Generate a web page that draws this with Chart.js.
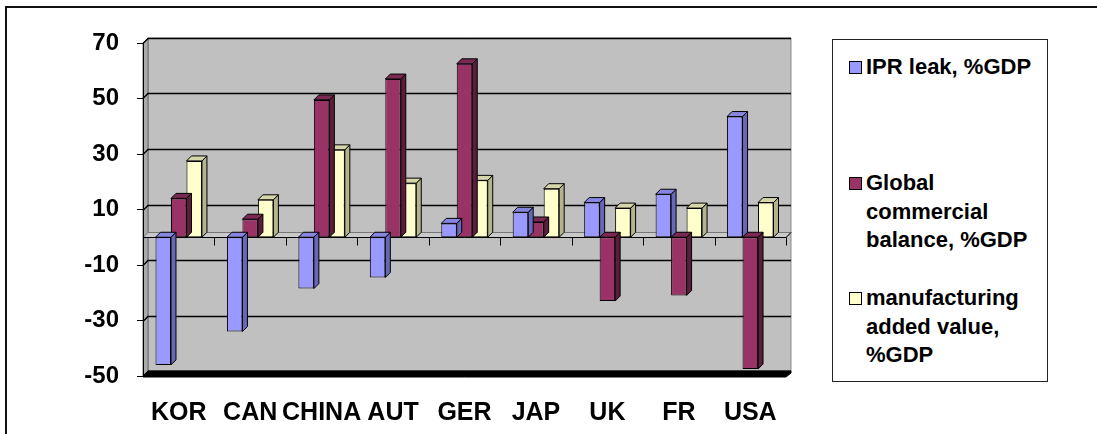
<!DOCTYPE html>
<html>
<head>
<meta charset="utf-8">
<script src="https://cdn.jsdelivr.net/npm/chart.js@4/dist/chart.umd.min.js"></script>
<style>
  html, body { margin: 0; padding: 0; background: #fff; }
  body { width: 1097px; height: 434px; position: relative; overflow: hidden;
         font-family: "Liberation Sans", Arial, sans-serif; }
  #frame { position: absolute; left: 5px; top: 6px; width: 1200px; height: 600px;
           border-top: 2px solid #111; border-left: 2px solid #111; box-sizing: border-box; }
  #wrap { position: absolute; left: 0; top: 0; width: 820px; height: 434px; }
  #legend { position: absolute; left: 832px; top: 39px; width: 216px; height: 343px;
            border: 1px solid #222; box-sizing: border-box; background: #fff;
            font-weight: bold; font-size: 22px; line-height: 28.7px; color: #000; }
  .item { position: absolute; left: 33px; white-space: nowrap; }
  .sw { position: absolute; left: -17px; top: 8px; width: 11px; height: 11px; border: 1px solid #000; }
</style>
</head>
<body>
<div id="frame"></div>
<div id="wrap"><canvas id="c"></canvas></div>
<div id="legend">
  <div class="item" style="top:13px"><span class="sw" style="background:#9999FF"></span>IPR leak, %GDP</div>
  <div class="item" style="top:129px"><span class="sw" style="background:#993366"></span>Global<br>commercial<br>balance, %GDP</div>
  <div class="item" style="top:244px"><span class="sw" style="background:#FFFFCC"></span>manufacturing<br>added value,<br>%GDP</div>
</div>
<script>
// Countries and the three indicators, in % of GDP
const categories = ['KOR', 'CAN', 'CHINA', 'AUT', 'GER', 'JAP', 'UK', 'FR', 'USA'];
const iprLeak = [-46, -34, -18.5, -14.5, 5, 9, 12.5, 15.5, 43.5];
const commercialBalance = [14, 6.5, 49.5, 57, 62.5, 5.5, -23, -21, -47.5];
const manufacturingAdded = [27.5, 13.5, 31.5, 19.5, 20.5, 17.5, 10.5, 10.5, 12.5];
const yTicks = [-50, -30, -10, 10, 30, 50, 70];

const FONT = '"Liberation Sans", Arial, sans-serif';
const WALL = 5;   // depth of the back wall
const DEPTH = 5;  // depth of each column

// face colours per series: front, side, top
const faces = [
  { front: '#9999FF', side: '#6868B8', top: '#8686E0' },
  { front: '#993366', side: '#5A1E3D', top: '#7A2952' },
  { front: '#FFFFCC', side: '#B4B48E', top: '#D6D6AA' }
];

function poly(ctx, pts, fill, stroke) {
  ctx.beginPath();
  ctx.moveTo(pts[0][0], pts[0][1]);
  for (let i = 1; i < pts.length; i++) ctx.lineTo(pts[i][0], pts[i][1]);
  ctx.closePath();
  if (fill) { ctx.fillStyle = fill; ctx.fill(); }
  if (stroke) { ctx.strokeStyle = stroke; ctx.lineWidth = 1; ctx.stroke(); }
}

// walls, floor, gridlines and the zero plane
const roomPlugin = {
  id: 'room',
  beforeDraw(chart) {
    const { ctx, chartArea: a, scales: { y } } = chart;
    const d = WALL;
    ctx.save();
    // back wall
    poly(ctx, [[a.left + d, a.top - d], [a.right + d, a.top - d], [a.right + d, a.bottom - d], [a.left + d, a.bottom - d]], '#C0C0C0', '#8a8a8a');
    // side wall
    poly(ctx, [[a.left, a.top], [a.left + d, a.top - d], [a.left + d, a.bottom - d], [a.left, a.bottom]], '#ABABAB', '#666');
    // gridlines
    ctx.strokeStyle = '#000';
    ctx.lineWidth = 1.3;
    yTicks.forEach(v => {
      const py = Math.round(y.getPixelForValue(v)) + 0.5;
      ctx.beginPath();
      ctx.moveTo(a.left, py);
      ctx.lineTo(a.left + d, py - d);
      ctx.lineTo(a.right + d, py - d);
      ctx.stroke();
    });
    // floor
    poly(ctx, [[a.left, a.bottom], [a.left + d, a.bottom - d], [a.right + d, a.bottom - d], [a.right + d, a.bottom - d + 2], [a.right, a.bottom + 1], [a.left, a.bottom + 1]], '#000', '#000');
    // zero plane
    const z = Math.round(y.getPixelForValue(0)) + 0.5;
    poly(ctx, [[a.left, z], [a.left + d, z - d], [a.right + d, z - d], [a.right, z]], '#C9C9C9', '#777');
    ctx.strokeStyle = '#000';
    ctx.lineWidth = 1;
    ctx.beginPath();
    ctx.moveTo(a.left, z); ctx.lineTo(a.right, z); ctx.lineTo(a.right + d, z - d);
    ctx.stroke();
    // category ticks on the zero line
    const step = (a.right - a.left) / categories.length;
    ctx.beginPath();
    for (let i = 1; i <= categories.length; i++) {
      const px = Math.round(a.left + i * step) + 0.5;
      ctx.moveTo(px, z); ctx.lineTo(px, z + 8);
    }
    ctx.stroke();
    ctx.restore();
  },
  // side and top faces of each column, drawn before its front face
  beforeDatasetDraw(chart, args) {
    const { ctx } = chart;
    const meta = chart.getDatasetMeta(args.index);
    const f = faces[args.index];
    const d = DEPTH;
    ctx.save();
    meta.data.forEach(bar => {
      const l = bar.x - bar.width / 2, r = bar.x + bar.width / 2;
      const t = Math.min(bar.y, bar.base), b = Math.max(bar.y, bar.base);
      poly(ctx, [[r, t], [r + d, t - d], [r + d, b - d], [r, b]], f.side, '#000');
      poly(ctx, [[l, t], [l + d, t - d], [r + d, t - d], [r, t]], f.top, '#000');
    });
    ctx.restore();
  }
};

const mkSet = (label, data, i) => ({
  label, data,
  backgroundColor: faces[i].front,
  borderColor: '#000',
  borderWidth: 1,
  borderSkipped: false,
  barPercentage: 1,
  categoryPercentage: 0.65
});

new Chart(document.getElementById('c'), {
  type: 'bar',
  data: {
    labels: categories,
    datasets: [
      mkSet('IPR leak, %GDP', iprLeak, 0),
      mkSet('Global commercial balance, %GDP', commercialBalance, 1),
      mkSet('manufacturing added value, %GDP', manufacturingAdded, 2)
    ]
  },
  options: {
    responsive: true,
    maintainAspectRatio: false,
    animation: false,
    events: [],
    layout: { padding: { left: 0, top: 43, right: 34, bottom: 0 } },
    plugins: { legend: { display: false }, tooltip: { enabled: false } },
    scales: {
      x: {
        grid: { display: false },
        border: { display: false },
        ticks: {
          autoSkip: false, maxRotation: 0, minRotation: 0,
          color: '#000', padding: 14,
          font: { family: FONT, size: 25, weight: 'bold' }
        },
        afterFit(s) { s.height = 58; }
      },
      y: {
        min: -50, max: 70,
        afterBuildTicks(s) { s.ticks = yTicks.map(v => ({ value: v })); },
        grid: { drawOnChartArea: false, drawTicks: true, tickLength: 6, color: '#000' },
        border: { display: true, color: '#000', width: 1 },
        ticks: {
          color: '#000', padding: 18,
          font: { family: FONT, size: 24, weight: 'bold' }
        },
        afterFit(s) { s.width = 143; }
      }
    }
  },
  plugins: [roomPlugin]
});
</script>
</body>
</html>
